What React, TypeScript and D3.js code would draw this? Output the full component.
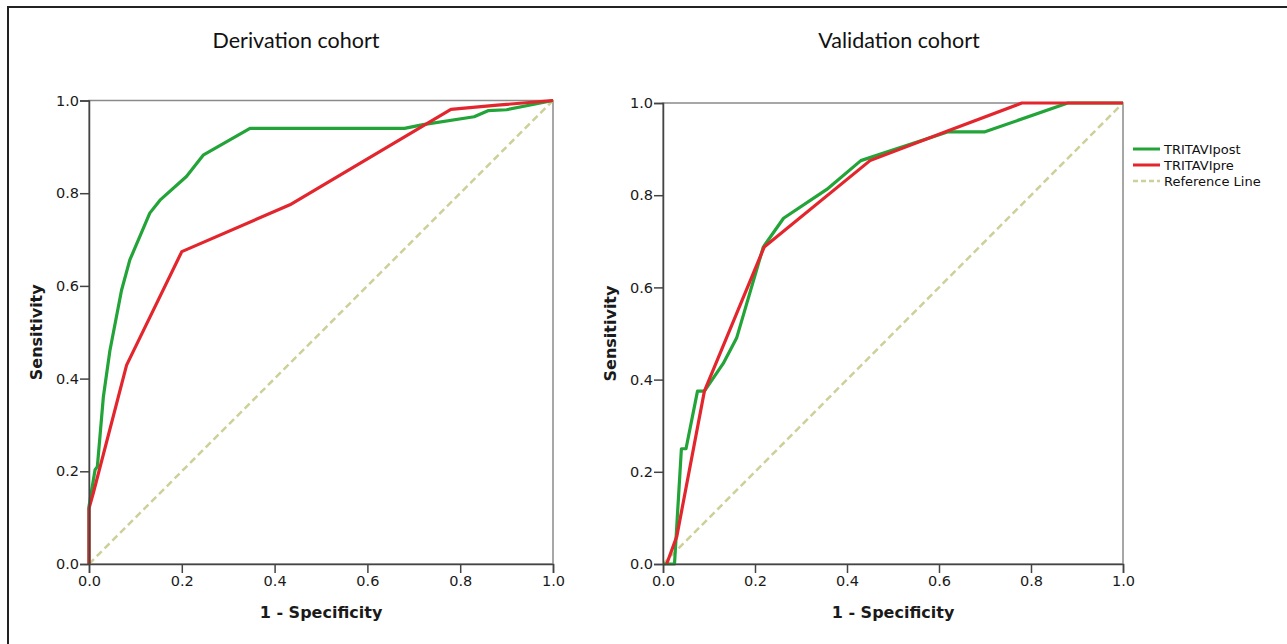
import React, { useEffect, useRef } from "react";
import * as d3 from "d3";

// ROC curve points (x = 1 - specificity, y = sensitivity)
const derivPostFpr = [0, 0, 0.013, 0.018, 0.031, 0.045, 0.07, 0.088, 0.131, 0.153, 0.21, 0.246, 0.347, 0.68, 0.72, 0.83, 0.86, 0.9, 1];
const derivPostSens = [0, 0.124, 0.203, 0.21, 0.361, 0.46, 0.59, 0.656, 0.757, 0.785, 0.836, 0.882, 0.94, 0.94, 0.948, 0.965, 0.978, 0.98, 1];
const derivPreFpr = [0, 0, 0.009, 0.081, 0.2, 0.433, 0.78, 0.88, 1];
const derivPreSens = [0, 0.12, 0.152, 0.429, 0.674, 0.775, 0.981, 0.99, 1];

const validPostFpr = [0, 0.025, 0.04, 0.05, 0.075, 0.09, 0.131, 0.16, 0.218, 0.262, 0.356, 0.43, 0.62, 0.7, 0.88, 1];
const validPostSens = [0, 0, 0.25, 0.25, 0.375, 0.375, 0.435, 0.49, 0.6875, 0.75, 0.8125, 0.875, 0.9375, 0.9375, 1, 1];
const validPreFpr = [0.008, 0.03, 0.09, 0.22, 0.45, 0.62, 0.78, 1];
const validPreSens = [0, 0.06, 0.375, 0.6875, 0.875, 0.94, 1, 1];

const refLine = [0, 1];
const ticks = [0, 0.2, 0.4, 0.6, 0.8, 1.0];
const seriesNames = ["TRITAVIpost", "TRITAVIpre", "Reference Line"];

const GREEN = "#22a438";
const RED = "#e3262d";
const REF = "#cdd098";

const zip = (xs: number[], ys: number[]) => xs.map((x, i) => [x, ys[i]] as [number, number]);

const Panel = ({ title, box, post, pre }) => {
  const xAxisRef = useRef(null);
  const yAxisRef = useRef(null);
  const { left, right, top, bottom } = box;

  const x = d3.scaleLinear().domain([0, 1]).range([left, right]);
  const y = d3.scaleLinear().domain([0, 1]).range([bottom, top]);
  const line = d3.line<[number, number]>().x(d => x(d[0])).y(d => y(d[1]));

  useEffect(() => {
    const fmt = d3.format(".1f");
    const gx = d3.select(xAxisRef.current);
    gx.selectAll("*").remove();
    gx.call(d3.axisBottom(x).tickValues(ticks).tickFormat(fmt).tickSize(9).tickPadding(3));
    const gy = d3.select(yAxisRef.current);
    gy.selectAll("*").remove();
    gy.call(d3.axisLeft(y).tickValues(ticks).tickFormat(fmt).tickSize(9).tickPadding(1));
    [gx, gy].forEach(g => {
      g.select(".domain").attr("stroke", "#444").attr("stroke-width", 1.5);
      g.selectAll(".tick line").attr("stroke", "#444").attr("stroke-width", 1.5);
      g.selectAll("text")
        .attr("fill", "#1a1a1a")
        .style("font-family", "'DejaVu Sans', sans-serif")
        .style("font-size", "14.5px");
    });
  });

  const cx = (left + right) / 2;
  const cy = (top + bottom) / 2;

  return (
    <g>
      <text x={title.x} y={48} textAnchor="middle" fontFamily="Lato, 'Open Sans', sans-serif" fontSize={21.5} fill="#111">
        {title.text}
      </text>
      <rect x={left} y={top} width={right - left} height={bottom - top} fill="none" stroke="#8a8a8a" strokeWidth={1.5} />
      <path
        d={line(zip(refLine, refLine))}
        fill="none"
        stroke={REF}
        strokeWidth={2.5}
        strokeDasharray="7,4"
      />
      <path d={line(post)} fill="none" stroke={GREEN} strokeWidth={3.2} strokeLinejoin="round" />
      <path d={line(pre)} fill="none" stroke={RED} strokeWidth={3.2} strokeLinejoin="round" />
      <g ref={xAxisRef} transform={`translate(0,${bottom})`} />
      <g ref={yAxisRef} transform={`translate(${left},0)`} />
      <text x={cx} y={618} textAnchor="middle" fontFamily="'DejaVu Sans', sans-serif" fontWeight="bold" fontSize={16} fill="#1a1a1a">
        1 - Specificity
      </text>
      <text
        transform={`translate(${left - 47},${cy}) rotate(-90)`}
        textAnchor="middle"
        fontFamily="'DejaVu Sans', sans-serif"
        fontWeight="bold"
        fontSize={16}
        fill="#1a1a1a"
      >
        Sensitivity
      </text>
    </g>
  );
};

const Legend = ({ x0, y0 }) => {
  const colors = [GREEN, RED, REF];
  return (
    <g>
      {seriesNames.map((name, i) => (
        <g key={name} transform={`translate(${x0},${y0 + i * 16})`}>
          <line
            x1={0}
            x2={27}
            y1={0}
            y2={0}
            stroke={colors[i]}
            strokeWidth={i === 2 ? 2.5 : 3}
            strokeDasharray={i === 2 ? "5,3" : undefined}
          />
          <text x={31} y={0} dy="0.35em" fontFamily="'DejaVu Sans', sans-serif" fontSize={13} fill="#111">
            {name}
          </text>
        </g>
      ))}
    </g>
  );
};

export default function App() {
  return (
    <svg width={1287} height={644} style={{ position: "absolute", left: 0, top: 0, background: "#fff" }}>
      <rect x={0} y={0} width={1287} height={644} fill="#fff" />
      <rect x={8} y={7} width={1290} height={650} fill="none" stroke="#222" strokeWidth={2} />
      <Panel
        title={{ text: "Derivation cohort", x: 296 }}
        box={{ left: 89, right: 553, top: 100.5, bottom: 564 }}
        post={zip(derivPostFpr, derivPostSens)}
        pre={zip(derivPreFpr, derivPreSens)}
      />
      <Panel
        title={{ text: "Validation cohort", x: 899 }}
        box={{ left: 663, right: 1123, top: 103, bottom: 564 }}
        post={zip(validPostFpr, validPostSens)}
        pre={zip(validPreFpr, validPreSens)}
      />
      <Legend x0={1133} y0={149} />
    </svg>
  );
}
